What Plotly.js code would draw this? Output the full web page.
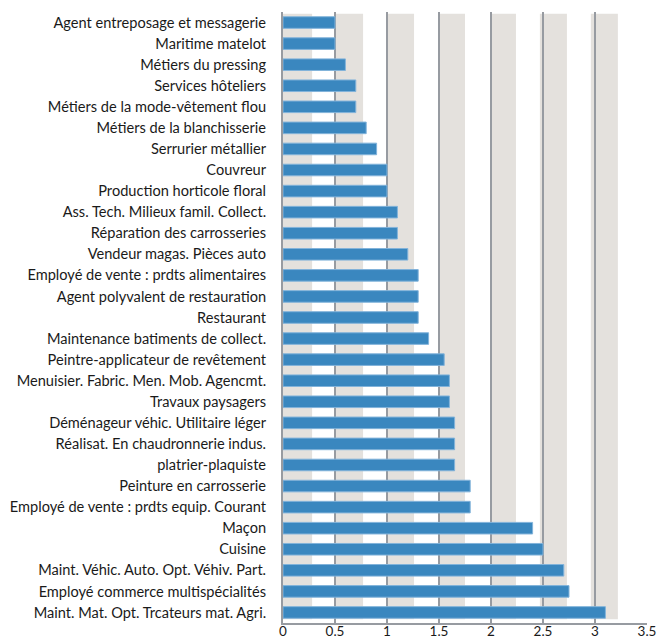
<!DOCTYPE html>
<html>
<head>
<meta charset="utf-8">
<script src="https://cdn.plot.ly/plotly-3.0.1.min.js"></script>
<style>html,body{margin:0;padding:0;background:#fff;}#chart{width:658px;height:643px;}</style>
</head>
<body>
<div id="chart"></div>
<script>
const categories = [
  "Agent entreposage et messagerie",
  "Maritime matelot",
  "Métiers du pressing",
  "Services hôteliers",
  "Métiers de la mode-vêtement flou",
  "Métiers de la blanchisserie",
  "Serrurier métallier",
  "Couvreur",
  "Production horticole floral",
  "Ass. Tech. Milieux famil. Collect.",
  "Réparation des carrosseries",
  "Vendeur magas. Pièces auto",
  "Employé de vente : prdts alimentaires",
  "Agent polyvalent de restauration",
  "Restaurant",
  "Maintenance batiments de collect.",
  "Peintre-applicateur de revêtement",
  "Menuisier. Fabric. Men. Mob. Agencmt.",
  "Travaux paysagers",
  "Déménageur véhic. Utilitaire léger",
  "Réalisat. En chaudronnerie indus.",
  "platrier-plaquiste",
  "Peinture en carrosserie",
  "Employé de vente : prdts equip. Courant",
  "Maçon",
  "Cuisine",
  "Maint. Véhic. Auto. Opt. Véhiv. Part.",
  "Employé commerce multispécialités",
  "Maint. Mat. Opt. Trcateurs mat. Agri."
];
const values = [0.5, 0.5, 0.6, 0.7, 0.7, 0.8, 0.9, 1.0, 1.0, 1.1, 1.1, 1.2, 1.3, 1.3, 1.3, 1.4, 1.55, 1.6, 1.6, 1.65, 1.65, 1.65, 1.8, 1.8, 2.4, 2.5, 2.7, 2.75, 3.1];
const xTicks = [0, 0.5, 1, 1.5, 2, 2.5, 3, 3.5];
const xTickLabels = ["0", "0.5", "1", "1.5", "2", "2.5", "3", "3.5"];
const bandStarts = [0, 0.5, 1.0, 1.5, 2.0, 2.47, 2.96];
const bandEnds = [0.28, 0.77, 1.26, 1.75, 2.24, 2.73, 3.22];

const FONT = "Lato, 'Open Sans', sans-serif";

const shapes = bandStarts.map((s, i) => ({
  type: "rect", xref: "x", yref: "paper", layer: "below",
  x0: s, x1: bandEnds[i], y0: 0.006, y1: 0.997,
  fillcolor: "#e4e1dd", line: {width: 0}
}));

const trace = {
  type: "bar",
  orientation: "h",
  x: values,
  y: categories,
  marker: {color: "#3a87bf", line: {color: "#82b3da", width: 1}},
  hoverinfo: "x+y"
};

const layout = {
  width: 658, height: 643,
  margin: {l: 283, r: 11, t: 12, b: 20},
  paper_bgcolor: "#ffffff",
  plot_bgcolor: "#ffffff",
  showlegend: false,
  bargap: 0.45,
  font: {family: FONT, size: 14, color: "#1a1a1a"},
  shapes: shapes,
  xaxis: {
    range: [0, 3.5],
    tickvals: xTicks,
    ticktext: xTickLabels,
    showgrid: true,
    gridcolor: "#979ba1",
    gridwidth: 2,
    zeroline: false,
    showline: true,
    linecolor: "#979ba1",
    linewidth: 2,
    ticks: "",
    ticklabelstandoff: -5,
    tickfont: {family: FONT, size: 13.5, color: "#1a1a1a"},
    fixedrange: true
  },
  yaxis: {
    type: "category",
    autorange: "reversed",
    showgrid: false,
    zeroline: false,
    showline: true,
    linecolor: "#979ba1",
    linewidth: 2,
    ticks: "",
    ticklabelstandoff: 12,
    tickfont: {family: FONT, size: 14.6, color: "#1a1a1a"},
    automargin: false,
    fixedrange: true
  }
};

Plotly.newPlot("chart", [trace], layout, {displayModeBar: false, staticPlot: true});
</script>
</body>
</html>
